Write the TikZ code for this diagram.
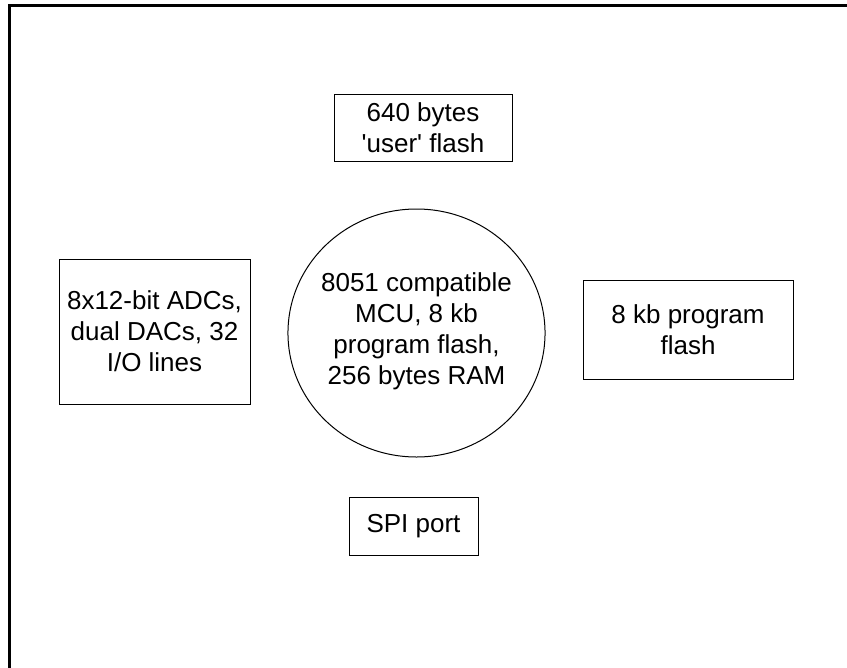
\documentclass[tikz,border=0pt]{standalone}
\usepackage{fontspec}
\setmainfont{Liberation Sans}
\begin{document}
\begin{tikzpicture}[x=0.75pt,y=-0.75pt]
    \tikzstyle{every node} = [font=\fontsize{19.5pt}{23.25pt}\selectfont, align=center]
    \tikzstyle{blk} = [draw, line width=0.75pt, inner sep=0pt]
    \useasboundingbox (0,0) rectangle (847,668);
    % frame, only its top and left edges are in view
    \coordinate (fb) at (9.8,668);
    \coordinate (fc) at (9.8,5.6);
    \coordinate (fe) at (847,5.6);
    \draw[line width=2.5pt] (fb) -- (fc) -- (fe);
    \node[blk, minimum width=133.5pt, minimum height=50.25pt] (uflash) at (423,127.5) {640 bytes\\\textquotesingle user\textquotesingle\ flash};
    \node[blk, minimum width=143.25pt, minimum height=108.75pt] (adc) at (154.5,331.5) {8x12-bit ADCs,\\dual DACs, 32\\I/O lines};
    \node[blk, minimum width=157.5pt, minimum height=74.25pt] (pflash) at (688,329.5) {8 kb program\\flash};
    \node[blk, minimum width=96.75pt, minimum height=43.5pt] (spi) at (413.5,526) {SPI port};
    \node (mcu) at (416.5,331) {8051 compatible\\MCU, 8 kb\\program flash,\\256 bytes RAM};
    \draw[line width=0.75pt] (416.5,333) ellipse [x radius=96.4pt, y radius=93pt];
\end{tikzpicture}
\end{document}
